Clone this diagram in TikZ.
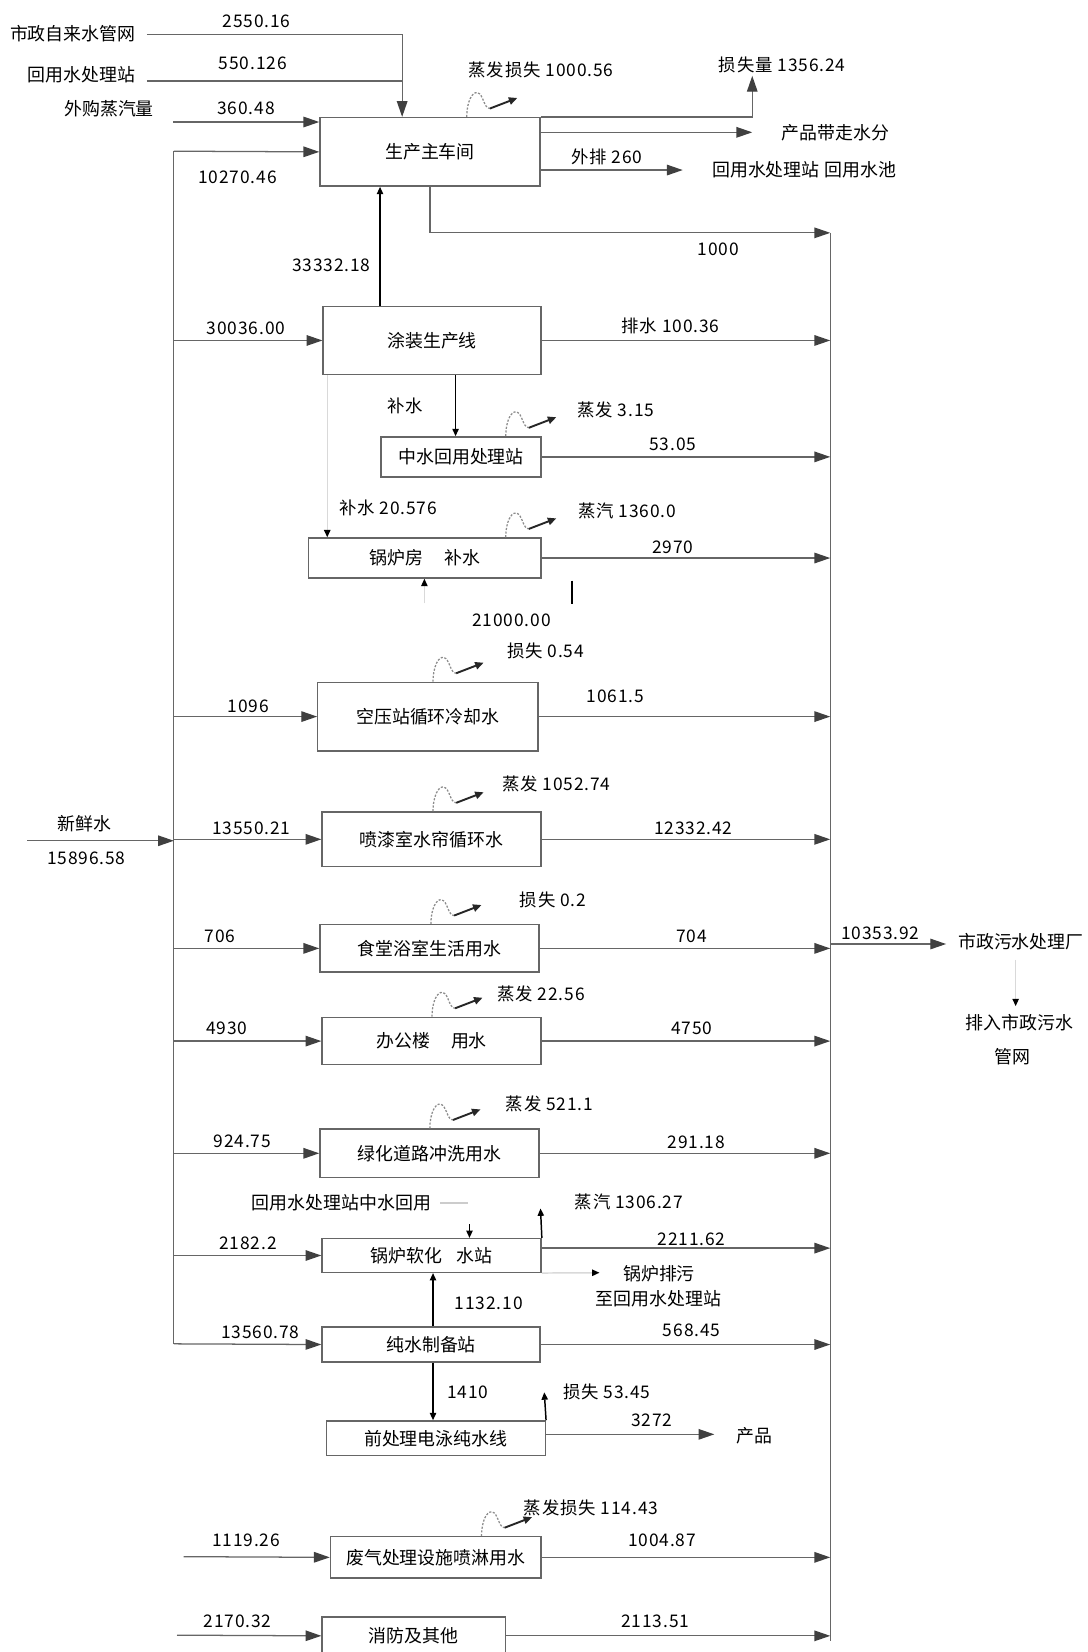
\documentclass[tikz,border=0pt]{standalone}
\usepackage{fontspec}
\newfontfamily\cjk{Noto Sans CJK SC}
\newfontfamily\cjkl[LetterSpace=5]{Noto Sans CJK SC}
\usetikzlibrary{arrows.meta,calc}
\newcommand\boxfont{\cjk\fontsize{17}{19}\selectfont}
\newcommand\lblfont{\cjkl\fontsize{16.5}{18}\selectfont}
\tikzset{
  ln/.style={draw=black!60, line width=1.2pt},
  arr/.style={ln, -{Triangle[length=15pt,width=10pt,color=black!75]}},
  blkarr/.style={draw=black, line width=1.4pt, -{Triangle[length=7pt,width=6pt]}},
  blkln/.style={draw=black, line width=1.6pt},
  greyarr/.style={draw=black!15, line width=1.4pt, -{Triangle[length=7pt,width=6pt,color=black]}},
  greyln/.style={draw=black!20, line width=1.6pt},
  box/.style={draw=black!60, line width=1.3pt, fill=white, inner sep=0pt, anchor=north west, font=\boxfont},
  lbl/.style={font=\lblfont, inner sep=0pt},
  txt/.style={font=\boxfont, inner sep=0pt},
  vapl/.style={draw=black!45, line width=1.2pt, dash pattern=on 2pt off 1.5pt},
  vapa/.style={draw=black!85, line width=1.8pt, -{Triangle[length=8pt,width=7pt]}},
  vapor/.pic={
    \draw[vapl] (0,0) .. controls (0,-14) and (5,-24) .. (10,-23) .. controls (16,-22) and (16,-8) .. (22,-8);
    \draw[vapa] (22,-8) -- (48,-18);
  }
}
\begin{document}
\begin{tikzpicture}[x=1pt,y=-1pt]
\fill[white] (0,0) rectangle (1032,1568);
\useasboundingbox (0,0) rectangle (1032,1568);

% ---------- boxes ----------
\node[box, minimum width=209pt, minimum height=65pt] (m)   at (303,111)  {生产主车间};
\node[box, minimum width=207pt, minimum height=65pt] (b2)  at (306,290)  {涂装生产线};
\node[box, minimum width=152pt, minimum height=38pt] (b3)  at (361,414)  {中水回用处理站};
\node[box, minimum width=221pt, minimum height=38pt] (b4)  at (292,510)  {锅炉房\hspace{20pt}补水};
\node[box, minimum width=209pt, minimum height=65pt] (b5)  at (301,647)  {空压站循环冷却水};
\node[box, minimum width=208pt, minimum height=52pt] (b6)  at (305,770)  {喷漆室水帘循环水};
\node[box, minimum width=208pt, minimum height=45pt] (b7)  at (303,877)  {食堂浴室生活用水};
\node[box, minimum width=208pt, minimum height=45pt] (b8)  at (305,965)  {办公楼\hspace{20pt}用水};
\node[box, minimum width=208pt, minimum height=46pt] (b9)  at (303,1071) {绿化道路冲洗用水};
\node[box, minimum width=208pt, minimum height=32pt] (b10) at (305,1175) {锅炉软化\hspace{14pt}水站};
\node[box, minimum width=207pt, minimum height=33pt] (b11) at (305,1259) {纯水制备站};
\node[box, minimum width=208pt, minimum height=33pt] (b12) at (309,1348) {前处理电泳纯水线};
\node[box, minimum width=200pt, minimum height=39pt] (b13) at (313,1458) {废气处理设施喷淋用水};
\node[box, minimum width=174pt, minimum height=36pt] (b14) at (305,1534) {消防及其他};

% ---------- free-standing texts ----------
\node[txt] (t1) at (69,31.7) {市政自来水管网};
\node[txt] (t2) at (77.5,71) {回用水处理站};
\node[txt] (t3) at (103.5,103) {外购蒸汽量};
\node[txt] (t4) at (793,125.6) {产品带走水分};
\node[txt] (t5) at (763.5,161) {回用水处理站\hspace{5pt}回用水池};
\node[txt] (t6) at (80.5,782) {新鲜水};
\node[lbl] (t7) at (82,815) {15896.58};
\node[txt] (t8) at (969,894) {市政污水处理厂};
\node[txt] (t9) at (967.5,971) {排入市政污水};
\node[txt] (t10) at (961,1003) {管网};
\node[txt] (t11) at (324,1141.8) {回用水处理站中水回用};
\node[txt] (t12) at (625.5,1209) {锅炉排污};
\node[txt] (t13) at (625,1232.6) {至回用水处理站};
\node[txt] (t14) at (716,1363) {产品};

% ---------- coordinates ----------
\coordinate (s1) at (139.5,33);
\coordinate (j1) at (381.7,33);
\coordinate (s2) at (139.5,77);
\coordinate (j2) at (381.7,77);
\coordinate (s3) at (164.5,115.8);
\coordinate (lb0) at (165,143.5);
\coordinate (lb1) at (165,1275.5);
\coordinate (nw) at (26,798);
\coordinate (s13) at (174.4,1477.5);
\coordinate (s14) at (168,1552);
\coordinate (rb0) at (788,221);
\coordinate (rb1) at (788,1558);
\coordinate (o1) at (714,72);
\coordinate (o2) at (714,125.6);
\coordinate (o3) at (648,161.4);
\coordinate (v1) at (360.7,250);
\coordinate (v2) at (432.4,385);
\coordinate (v3) at (310.6,450);
\coordinate (v4) at (402.8,572.7);
\coordinate (k1) at (543,551);
\coordinate (k2) at (543,573);
\coordinate (ro) at (788,896);
\coordinate (ro2) at (898,896);
\coordinate (gd1) at (964,911);
\coordinate (gd2) at (964,955);
\coordinate (g1) at (418,1141.8);
\coordinate (g2) at (444,1141.8);
\coordinate (g3) at (445.6,1162);
\coordinate (u10) at (513,1147);
\coordinate (o10) at (569,1208);
\coordinate (v5) at (411,1230);
\coordinate (o12) at (678,1361.4);
\coordinate (u12) at (516.6,1321.5);

% ---------- buses ----------
\draw[ln] (lb0) -- (lb1);
\draw[ln] (rb0) -- (rb1);

% ---------- inputs ----------
\draw[arr] (s1) -- (j1) -- (m.north -| j1);
\draw[ln] (s2) -- (j2);
\draw[arr] (s3) -- (s3 -| m.west);
\draw[arr] (lb0) -- (m.west);
\draw[arr] (lb0 |- b2.west) -- (b2.west);
\draw[arr] (lb0 |- b5.west) -- (b5.west);
\draw[arr] (lb0 |- b6.west) -- (b6.west);
\draw[arr] (lb0 |- b7.west) -- (b7.west);
\draw[arr] (lb0 |- b8.west) -- (b8.west);
\draw[arr] (lb0 |- b9.west) -- (b9.west);
\draw[arr] (lb0 |- b10.west) -- (b10.west);
\draw[arr] (lb1) -- (b11.west);
\draw[arr] (nw) -- (nw -| lb0);
\draw[arr] (s13) -- (b13.west);
\draw[arr] (s14) -- (b14.west);

% ---------- main box outputs ----------
\draw[arr] (m.north east) -| (o1);
\draw[arr] (m.east |- o2) -- (o2);
\draw[arr] (m.east |- o3) -- (o3);
\draw[arr] (m.south) |- (rb0);

% ---------- outputs to right bus ----------
\draw[arr] (b2.east) -- (b2.east -| rb0);
\draw[arr] (b3.east) -- (b3.east -| rb0);
\draw[arr] (b4.east) -- (b4.east -| rb0);
\draw[arr] (b5.east) -- (b5.east -| rb0);
\draw[arr] (b6.east) -- (b6.east -| rb0);
\draw[arr] (b7.east) -- (b7.east -| rb0);
\draw[arr] (b8.east) -- (b8.east -| rb0);
\draw[arr] (b9.east) -- (b9.east -| rb0);
\draw[arr] ([yshift=7pt]b10.east) -- ([yshift=7pt]b10.east -| rb0);
\draw[arr] (b11.east) -- (b11.east -| rb0);
\draw[arr] (b13.east) -- (b13.east -| rb0);
\draw[arr] (b14.east) -- (b14.east -| rb0);
\draw[arr] (ro) -- (ro2);
\draw[greyarr] (gd1) -- (gd2);

% ---------- box-to-box links ----------
\draw[blkarr] (b2.north -| v1) -- (m.south -| v1);
\draw[blkarr] (b2.south -| v2) -- (b3.north -| v2);
\draw[greyarr] (b2.south -| v3) -- (b4.north -| v3);
\draw[greyarr] (v4) -- (b4.south -| v4);
\draw[blkln] (k1) -- (k2);
\draw[greyln] (g1) -- (g2);
\draw[blkarr] (g3) -- (b10.north -| g3);
\draw[blkarr] (b10.north east) -- (u10);
\draw[greyarr] (b10.south east) -- (o10);
\draw[blkarr] (b11.north -| v5) -- (b10.south -| v5);
\draw[blkarr] (b11.south -| v5) -- (b12.north -| v5);
\draw[arr] (b12.east |- o12) -- (o12);
\draw[blkarr] (b12.north east) -- (u12);

% ---------- evaporation marks ----------
\pic at (443,111) {vapor};
\pic at (480,414) {vapor};
\pic at (480,510) {vapor};
\pic at (411,647) {vapor};
\pic at (411,770) {vapor};
\pic at (409,877) {vapor};
\pic at (410,965) {vapor};
\pic at (408,1071) {vapor};
\pic at (457,1458) {vapor};

% ---------- flow labels ----------
\node[lbl] (l1) at (243.5,20.6) {2550.16};
\node[lbl] (l2) at (240,60) {550.126};
\node[lbl] (l3) at (233.5,103) {360.48};
\node[lbl] (l4) at (225.5,168) {10270.46};
\node[lbl] (l5) at (513.5,66.5) {蒸发损失 1000.56};
\node[lbl] (l6) at (742.5,62) {损失量 1356.24};
\node[lbl] (l7) at (576,148.7) {外排 260};
\node[lbl] (l8) at (682,237) {1000};
\node[lbl] (l9) at (314.5,251.6) {33332.18};
\node[lbl] (l10) at (233.5,312) {30036.00};
\node[lbl] (l11) at (636.5,309) {排水 100.36};
\node[lbl] (l12) at (384.5,385) {补水};
\node[lbl] (l13) at (584.5,389) {蒸发 3.15};
\node[lbl] (l14) at (638.5,422) {53.05};
\node[lbl] (l15) at (368.5,482.5) {补水 20.576};
\node[lbl] (l16) at (595.5,485) {蒸汽 1360.0};
\node[lbl] (l17) at (638.5,519) {2970};
\node[lbl] (l18) at (485.5,588.6) {21000.00};
\node[lbl] (l19) at (518,618) {损失 0.54};
\node[lbl] (l20) at (235.5,670) {1096};
\node[lbl] (l21) at (584,661) {1061.5};
\node[lbl] (l22) at (238.5,786) {13550.21};
\node[lbl] (l23) at (528,744) {蒸发 1052.74};
\node[lbl] (l24) at (658,786) {12332.42};
\node[lbl] (l25) at (209,889) {706};
\node[lbl] (l26) at (525,854) {损失 0.2};
\node[lbl] (l27) at (656.5,889) {704};
\node[lbl] (l28) at (835.5,886) {10353.92};
\node[lbl] (l29) at (215.5,976) {4930};
\node[lbl] (l30) at (656.5,976) {4750};
\node[lbl] (l31) at (513.5,943) {蒸发 22.56};
\node[lbl] (l32) at (230,1083) {924.75};
\node[lbl] (l33) at (661,1084) {291.18};
\node[lbl] (l34) at (521.5,1048) {蒸发 521.1};
\node[lbl] (l35) at (597,1141) {蒸汽 1306.27};
\node[lbl] (l36) at (235.5,1180) {2182.2};
\node[lbl] (l37) at (656.5,1176) {2211.62};
\node[lbl] (l38) at (464,1237) {1132.10};
\node[lbl] (l39) at (247,1264.5) {13560.78};
\node[lbl] (l40) at (656.5,1263) {568.45};
\node[lbl] (l41) at (444,1321.5) {1410};
\node[lbl] (l42) at (576,1321.5) {损失 53.45};
\node[lbl] (l43) at (618.5,1348.5) {3272};
\node[lbl] (l44) at (233.5,1462.4) {1119.26};
\node[lbl] (l45) at (561,1430.8) {蒸发损失 114.43};
\node[lbl] (l46) at (628.5,1462) {1004.87};
\node[lbl] (l47) at (225.5,1539) {2170.32};
\node[lbl] (l48) at (622,1539) {2113.51};
\end{tikzpicture}
\end{document}
